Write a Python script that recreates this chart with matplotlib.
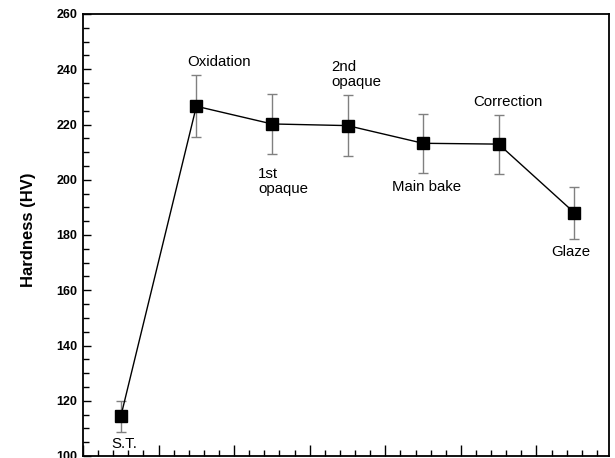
import matplotlib
matplotlib.use("Agg")
import matplotlib.pyplot as plt
from matplotlib.ticker import MultipleLocator, NullFormatter

plt.rcParams['font.family'] = ['Liberation Sans', 'DejaVu Sans']

stages = ["S.T.", "Oxidation", "1st\nopaque", "2nd\nopaque", "Main bake", "Correction", "Glaze"]
x_pos = [2.5, 7.5, 12.5, 17.5, 22.5, 27.5, 32.5]
hardness = [114.3, 226.6, 220.2, 219.6, 213.2, 212.9, 188.1]
errors = [5.6, 11.2, 11.0, 11.0, 10.6, 10.7, 9.4]
y_ticks = [100, 120, 140, 160, 180, 200, 220, 240, 260]

# label anchor positions (data coords) and alignment
label_x = [2.7, 9.0, 11.6, 16.4, 22.7, 28.1, 32.3]
label_y = [104.3, 242.6, 199.5, 238.0, 197.4, 228.0, 173.8]
label_ha = ["center", "center", "left", "left", "center", "center", "center"]

fig = plt.figure(figsize=(6.15, 4.58), dpi=100)
ax = fig.add_axes([83/615, 1-456/458, (609-83)/615, (456-14)/458])

ax.errorbar(x_pos, hardness, yerr=errors, fmt='none', ecolor='#808080',
            elinewidth=1.0, capsize=3.6, capthick=1.0, zorder=2)
ax.plot(x_pos, hardness, color='black', lw=1.0, marker='s', markersize=8,
        markerfacecolor='black', markeredgecolor='black', zorder=3)

for s, lx, ly, ha in zip(stages, label_x, label_y, label_ha):
    ax.text(lx, ly, s, ha=ha, va='center', fontsize=10.8, linespacing=1.1)

ax.set_xlim(0, 34.8)
ax.set_ylim(100, 260)
ax.set_yticks(y_ticks)
ax.yaxis.set_minor_locator(MultipleLocator(5))
ax.xaxis.set_major_locator(MultipleLocator(5))
ax.xaxis.set_minor_locator(MultipleLocator(1))
ax.xaxis.set_major_formatter(NullFormatter())
for lab in ax.get_yticklabels():
    lab.set_fontweight('bold')
    lab.set_fontsize(9)

ax.tick_params(axis='y', which='major', direction='in', length=5.5, width=1, pad=4)
ax.tick_params(axis='y', which='minor', direction='in', length=4.5, width=1)
ax.tick_params(axis='x', which='major', direction='in', length=8, width=1)
ax.tick_params(axis='x', which='minor', direction='in', length=4, width=1)
for sp in ax.spines.values():
    sp.set_linewidth(1.3)
    sp.set_color('black')

fig.text(28/615, 1-230/458, "Hardness (HV)", rotation=90, ha='center', va='center',
         fontsize=12, fontweight='bold')

fig.savefig("out.png", dpi=100)
